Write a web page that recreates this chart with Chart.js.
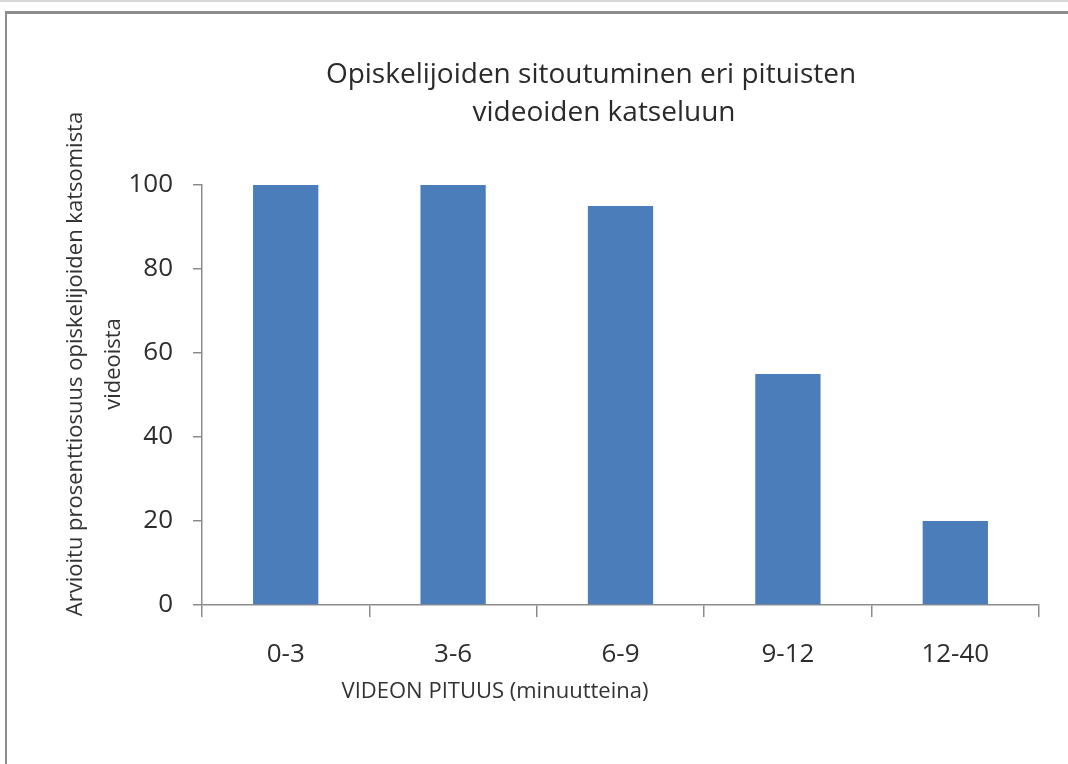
<!DOCTYPE html>
<html>
<head>
<meta charset="utf-8">
<script src="https://cdn.jsdelivr.net/npm/chart.js@4"></script>
<style>
html,body{margin:0;padding:0;background:#fff;}
#wrap{position:relative;width:1068px;height:764px;overflow:hidden;}
#top{position:absolute;left:0;top:0;width:1068px;height:2px;background:#d8d8d8;}
#frame{position:absolute;left:5px;top:11px;width:1100px;height:800px;border-top:3px solid #8c8c8c;border-left:2px solid #8c8c8c;}
canvas{position:absolute;left:0;top:0;}
</style>
</head>
<body>
<div id="wrap">
<div id="top"></div>
<div id="frame"></div>
<canvas id="c" width="1068" height="764"></canvas>
</div>
<script>
const categories = ["0-3", "3-6", "6-9", "9-12", "12-40"];
const values = [100, 100, 95, 55, 20];
const yTicks = [0, 20, 40, 60, 80, 100];
const titleLines = ["Opiskelijoiden sitoutuminen eri pituisten", "videoiden katseluun"];
const yTitleLines = ["Arvioitu prosenttiosuus opiskelijoiden katsomista", "videoista"];
const xTitle = "VIDEON PITUUS (minuutteina)";

const FONT = "'Open Sans', 'Noto Sans', sans-serif";

const textPlugin = {
  id: 'texts',
  afterDraw(chart) {
    const ctx = chart.ctx;
    ctx.save();
    ctx.fillStyle = '#2a2a2a';
    ctx.textAlign = 'center';
    ctx.textBaseline = 'middle';
    ctx.font = "28px " + FONT;
    ctx.fillText(titleLines[0], 591, 75);
    ctx.fillText(titleLines[1], 604, 113);
    ctx.fillStyle = '#333';
    ctx.font = "22px " + FONT;
    ctx.fillText(xTitle, 495, 692);
    ctx.save();
    ctx.translate(76, 364);
    ctx.rotate(-Math.PI / 2);
    ctx.font = "22px " + FONT;
    ctx.fillText(yTitleLines[0], 0, 0);
    ctx.restore();
    ctx.save();
    ctx.translate(114, 364);
    ctx.rotate(-Math.PI / 2);
    ctx.font = "22px " + FONT;
    ctx.fillText(yTitleLines[1], 0, 0);
    ctx.restore();
    ctx.restore();
  }
};

new Chart(document.getElementById('c'), {
  type: 'bar',
  data: {
    labels: categories,
    datasets: [{
      data: values,
      backgroundColor: '#4a7dba',
      borderWidth: 0,
      categoryPercentage: 1,
      barPercentage: 0.39
    }]
  },
  options: {
    responsive: false,
    animation: false,
    events: [],
    layout: { padding: { left: 100, top: 185, right: 29, bottom: 99 } },
    plugins: { legend: { display: false }, title: { display: false }, tooltip: { enabled: false } },
    scales: {
      x: {
        afterFit: s => { s.height = 60; },
        grid: { display: true, drawOnChartArea: false, drawTicks: true, tickLength: 12, color: '#8c8c8c', lineWidth: 1.5, offset: true },
        border: { display: true, color: '#8c8c8c', width: 1.5 },
        ticks: { color: '#2e2e2e', font: { family: FONT, size: 26 }, padding: 22 }
      },
      y: {
        min: 0, max: 100,
        afterFit: s => { s.width = 102; },
        afterBuildTicks: s => { s.ticks = yTicks.map(v => ({ value: v })); },
        grid: { display: true, drawOnChartArea: false, drawTicks: true, tickLength: 9, color: '#8c8c8c', lineWidth: 1.5 },
        border: { display: true, color: '#8c8c8c', width: 1.5 },
        ticks: { color: '#2e2e2e', font: { family: FONT, size: 26 }, padding: 20 }
      }
    }
  },
  plugins: [textPlugin]
});
</script>
</body>
</html>
